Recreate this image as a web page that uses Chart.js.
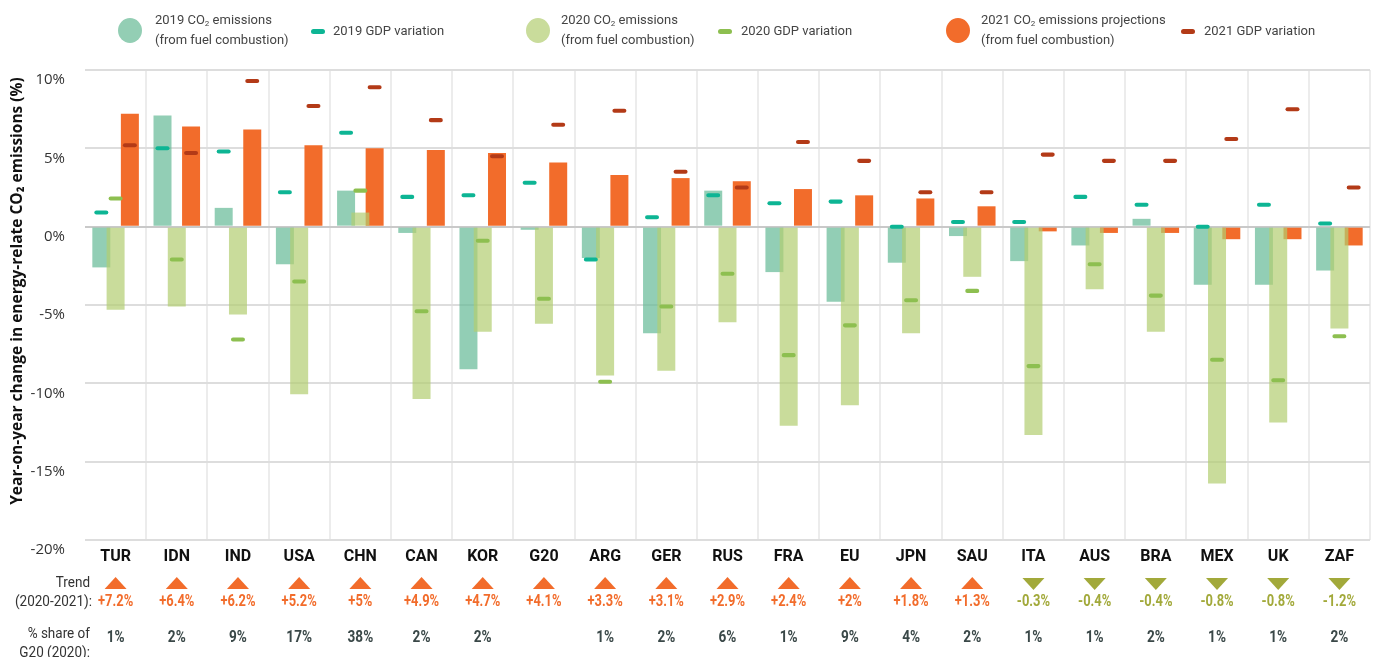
<!DOCTYPE html>
<html>
<head>
<meta charset="utf-8">
<script src="https://cdn.jsdelivr.net/npm/chart.js@4.4.1/dist/chart.umd.min.js"></script>
<style>
    body { margin: 0; background: #fff; }
    #wrap { position: relative; width: 1378px; height: 657px; }
    #chart { position: absolute; left: 0; top: 0; }
    .dot { position: absolute; width: 24px; height: 25px; border-radius: 50%; top: 18px; }
    .dash { position: absolute; width: 14px; height: 5px; border-radius: 3px; top: 29px; }
    .txt { position: absolute; font-family: Roboto, sans-serif; font-size: 13px; color: #444; line-height: 20px; white-space: nowrap; }
    .txt sub { font-size: 8px; line-height: 0; vertical-align: -2px; }
</style>
</head>
<body>
<div id="wrap">
    <canvas id="chart" width="1378" height="657"></canvas>

    <div class="dot" style="left:118px; background:#93ceb4"></div>
    <div class="txt" style="left:155px; top:10px">2019 CO<sub>2</sub> emissions<br>(from fuel combustion)</div>
    <div class="dash" style="left:311px; background:#0db594"></div>
    <div class="txt" style="left:333px; top:21px">2019 GDP variation</div>

    <div class="dot" style="left:526px; background:#c9dc9b"></div>
    <div class="txt" style="left:561px; top:10px">2020 CO<sub>2</sub> emissions<br>(from fuel combustion)</div>
    <div class="dash" style="left:718px; background:#8dbf50"></div>
    <div class="txt" style="left:741px; top:21px">2020 GDP variation</div>

    <div class="dot" style="left:946px; background:#f26c2b"></div>
    <div class="txt" style="left:981px; top:10px">2021 CO<sub>2</sub> emissions projections<br>(from fuel combustion)</div>
    <div class="dash" style="left:1181px; background:#b33a17"></div>
    <div class="txt" style="left:1204px; top:21px">2021 GDP variation</div>
</div>

<script>
const categories = ['TUR', 'IDN', 'IND', 'USA', 'CHN', 'CAN', 'KOR', 'G20', 'ARG', 'GER', 'RUS',
    'FRA', 'EU', 'JPN', 'SAU', 'ITA', 'AUS', 'BRA', 'MEX', 'UK', 'ZAF'];

// CO2 emissions, year-on-year change (%)
const co2_2019 = [-2.6, 7.1, 1.2, -2.4, 2.3, -0.4, -9.1, -0.2, -2.0, -6.8, 2.3,
    -2.9, -4.8, -2.3, -0.6, -2.2, -1.2, 0.5, -3.7, -3.7, -2.8];
const co2_2020 = [-5.3, -5.1, -5.6, -10.7, 0.9, -11.0, -6.7, -6.2, -9.5, -9.2, -6.1,
    -12.7, -11.4, -6.8, -3.2, -13.3, -4.0, -6.7, -16.4, -12.5, -6.5];
const co2_2021 = [7.2, 6.4, 6.2, 5.2, 5.0, 4.9, 4.7, 4.1, 3.3, 3.1, 2.9,
    2.4, 2.0, 1.8, 1.3, -0.3, -0.4, -0.4, -0.8, -0.8, -1.2];

// GDP variation (%)
const gdp_2019 = [0.9, 5.0, 4.8, 2.2, 6.0, 1.9, 2.0, 2.8, -2.1, 0.6, 2.0,
    1.5, 1.6, 0.0, 0.3, 0.3, 1.9, 1.4, 0.0, 1.4, 0.2];
const gdp_2020 = [1.8, -2.1, -7.2, -3.5, 2.3, -5.4, -0.9, -4.6, -9.9, -5.1, -3.0,
    -8.2, -6.3, -4.7, -4.1, -8.9, -2.4, -4.4, -8.5, -9.8, -7.0];
const gdp_2021 = [5.2, 4.7, 9.3, 7.7, 8.9, 6.8, 4.5, 6.5, 7.4, 3.5, 2.5,
    5.4, 4.2, 2.2, 2.2, 4.6, 4.2, 4.2, 5.6, 7.5, 2.5];

const trendLabels = ['+7.2%', '+6.4%', '+6.2%', '+5.2%', '+5%', '+4.9%', '+4.7%', '+4.1%', '+3.3%', '+3.1%', '+2.9%',
    '+2.4%', '+2%', '+1.8%', '+1.3%', '-0.3%', '-0.4%', '-0.4%', '-0.8%', '-0.8%', '-1.2%'];
const shareLabels = ['1%', '2%', '9%', '17%', '38%', '2%', '2%', '', '1%', '2%', '6%',
    '1%', '9%', '4%', '2%', '1%', '1%', '2%', '1%', '1%', '2%'];

const ORANGE = '#f26c2b';
const OLIVE = '#a2a93a';
const DASH = 0.13; // half thickness of the GDP marks, in % units

const toDash = arr => arr.map(v => [v - DASH, v + DASH]);

function condensedText(ctx, text, x, y, sx) {
    ctx.save();
    ctx.translate(x, y);
    ctx.scale(sx, 1);
    ctx.fillText(text, 0, 0);
    ctx.restore();
}

// y title, trend triangles, trend values and share row under the axis
const extras = {
    id: 'extras',
    afterDraw(chart) {
        const ctx = chart.ctx;
        const x = chart.scales.x;
        ctx.save();

        ctx.fillStyle = '#111';
        ctx.textAlign = 'center';
        ctx.textBaseline = 'middle';
        ctx.font = 'bold 15.5px "Open Sans", sans-serif';
        ctx.save();
        ctx.translate(18, 291);
        ctx.rotate(-Math.PI / 2);
        ctx.fillText('Year-on-year change in energy-relate CO\u2082 emissions (%)', 0, 0);
        ctx.restore();

        categories.forEach((c, i) => {
            const cx = x.getPixelForValue(i);
            const up = co2_2021[i] >= 0;
            ctx.fillStyle = up ? ORANGE : OLIVE;
            ctx.beginPath();
            if (up) {
                ctx.moveTo(cx - 11, 589); ctx.lineTo(cx + 11, 589); ctx.lineTo(cx, 577);
            } else {
                ctx.moveTo(cx - 11, 578); ctx.lineTo(cx + 11, 578); ctx.lineTo(cx, 590);
            }
            ctx.closePath();
            ctx.fill();

            ctx.font = 'bold 17px Roboto, sans-serif';
            condensedText(ctx, trendLabels[i], cx, 602, 0.76);

            ctx.fillStyle = '#3a4848';
            condensedText(ctx, shareLabels[i], cx, 638, 0.8);
        });

        ctx.fillStyle = '#333';
        ctx.textAlign = 'right';
        ctx.font = '15px Roboto, sans-serif';
        condensedText(ctx, 'Trend', 90, 583, 0.9);
        condensedText(ctx, '(2020-2021):', 92, 602, 0.9);
        condensedText(ctx, '% share of', 90, 634, 0.9);
        condensedText(ctx, 'G20 (2020):', 90, 653, 0.9);
        ctx.restore();
    }
};

const ctx = document.getElementById('chart').getContext('2d');

new Chart(ctx, {
    type: 'bar',
    data: {
        labels: categories,
        datasets: [
            {
                label: '2019 CO2 emissions',
                data: co2_2019,
                stack: 'y2019',
                order: 2,
                backgroundColor: 'rgba(100, 185, 150, 0.7)',
                categoryPercentage: 0.7,
                barPercentage: 1.26
            },
            {
                label: '2020 CO2 emissions',
                data: co2_2020,
                stack: 'y2020',
                order: 1,
                backgroundColor: 'rgba(178, 205, 112, 0.7)',
                categoryPercentage: 0.7,
                barPercentage: 1.26
            },
            {
                label: '2021 CO2 emissions projections',
                data: co2_2021,
                stack: 'y2021',
                order: 3,
                backgroundColor: ORANGE,
                categoryPercentage: 0.7,
                barPercentage: 1.26
            },
            {
                label: '2019 GDP variation',
                data: toDash(gdp_2019),
                stack: 'y2019',
                order: 0,
                backgroundColor: '#0db594',
                borderRadius: 2.5,
                borderSkipped: false,
                categoryPercentage: 0.7,
                barPercentage: 0.98
            },
            {
                label: '2020 GDP variation',
                data: toDash(gdp_2020),
                stack: 'y2020',
                order: 0,
                backgroundColor: '#8dbf50',
                borderRadius: 2.5,
                borderSkipped: false,
                categoryPercentage: 0.7,
                barPercentage: 0.98
            },
            {
                label: '2021 GDP variation',
                data: toDash(gdp_2021),
                stack: 'y2021',
                order: 0,
                backgroundColor: '#b33a17',
                borderRadius: 2.5,
                borderSkipped: false,
                categoryPercentage: 0.7,
                barPercentage: 0.98
            }
        ]
    },
    options: {
        responsive: false,
        animation: false,
        layout: {
            padding: { top: 70, right: 8, left: 0, bottom: 0 }
        },
        plugins: {
            legend: { display: false },
            tooltip: { enabled: false }
        },
        scales: {
            x: {
                afterFit: scale => { scale.height = 117; },
                border: { display: false },
                grid: {
                    offset: true,
                    drawTicks: false,
                    lineWidth: 2,
                    color: c => (c.index === 0 || c.index >= categories.length) ? 'rgba(0,0,0,0)' : '#ececec'
                },
                ticks: {
                    padding: 7,
                    color: '#111',
                    font: { family: 'Roboto, sans-serif', size: 16, weight: 'bold' }
                }
            },
            y: {
                stacked: false,
                min: -20,
                max: 10,
                afterFit: scale => { scale.width = 85; },
                border: { display: false },
                grid: {
                    drawTicks: false,
                    lineWidth: 2,
                    color: c => c.tick && c.tick.value === 0 ? '#c9c9c9' : '#dddddd'
                },
                ticks: {
                    stepSize: 5,
                    padding: 20,
                    labelOffset: 10,
                    color: '#333',
                    font: { family: '"Open Sans", sans-serif', size: 15 },
                    callback: v => v + '%'
                }
            }
        }
    },
    plugins: [extras]
});
</script>
</body>
</html>
